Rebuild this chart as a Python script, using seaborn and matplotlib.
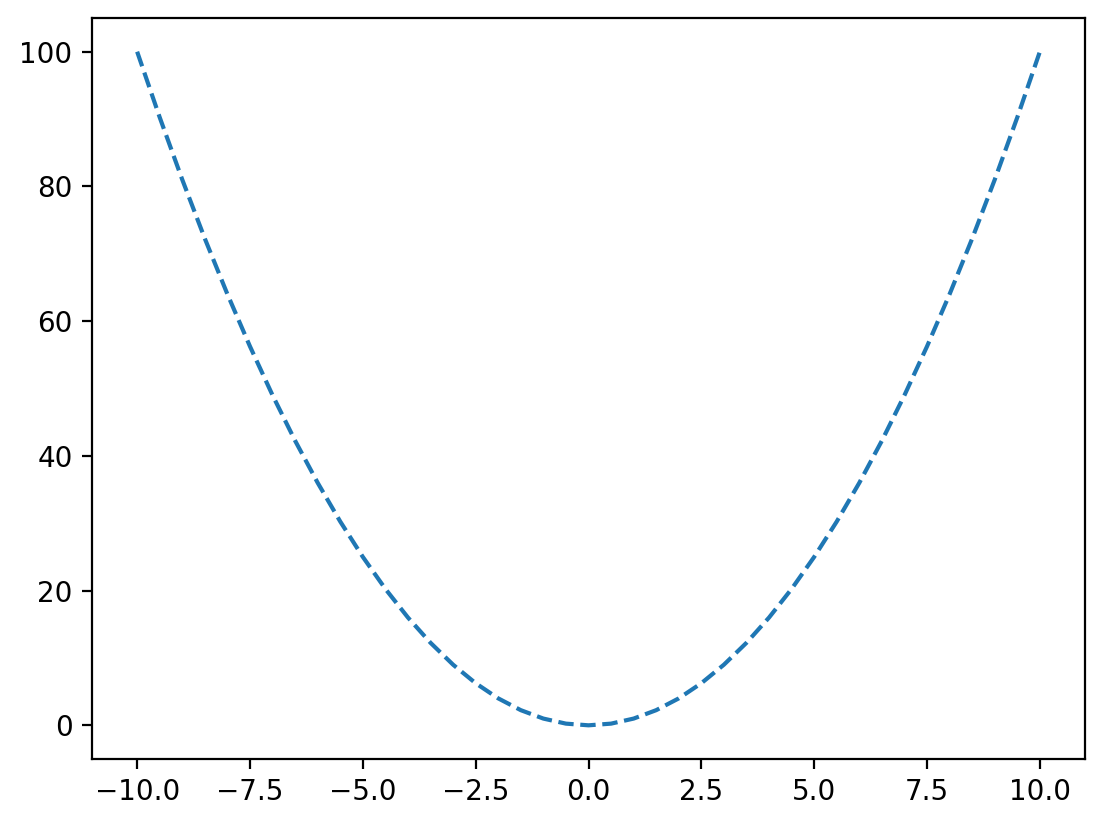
import matplotlib
matplotlib.use("Agg")
import matplotlib.pyplot as plt
import seaborn as sns

# values
x_vals = [-10.0, -9.5, -9.0, -8.5, -8.0, -7.5, -7.0, -6.5, -6.0, -5.5, -5.0,
          -4.5, -4.0, -3.5, -3.0, -2.5, -2.0, -1.5, -1.0, -0.5, 0.0,
          0.5, 1.0, 1.5, 2.0, 2.5, 3.0, 3.5, 4.0, 4.5, 5.0,
          5.5, 6.0, 6.5, 7.0, 7.5, 8.0, 8.5, 9.0, 9.5, 10.0]
y_vals = [100.0, 90.25, 81.0, 72.25, 64.0, 56.25, 49.0, 42.25, 36.0, 30.25, 25.0,
          20.25, 16.0, 12.25, 9.0, 6.25, 4.0, 2.25, 1.0, 0.25, 0.0,
          0.25, 1.0, 2.25, 4.0, 6.25, 9.0, 12.25, 16.0, 20.25, 25.0,
          30.25, 36.0, 42.25, 49.0, 56.25, 64.0, 72.25, 81.0, 90.25, 100.0]

fig, ax = plt.subplots(figsize=(5.52, 4.13), dpi=200)
fig.subplots_adjust(left=92 / 1104, right=1085 / 1104, top=1 - 18 / 826, bottom=1 - 759 / 826)
sns.lineplot(x=x_vals, y=y_vals, ax=ax, color="#1f77b4", linestyle="--", linewidth=1.5)

plt.savefig("out.png", dpi=200)
plt.close()
